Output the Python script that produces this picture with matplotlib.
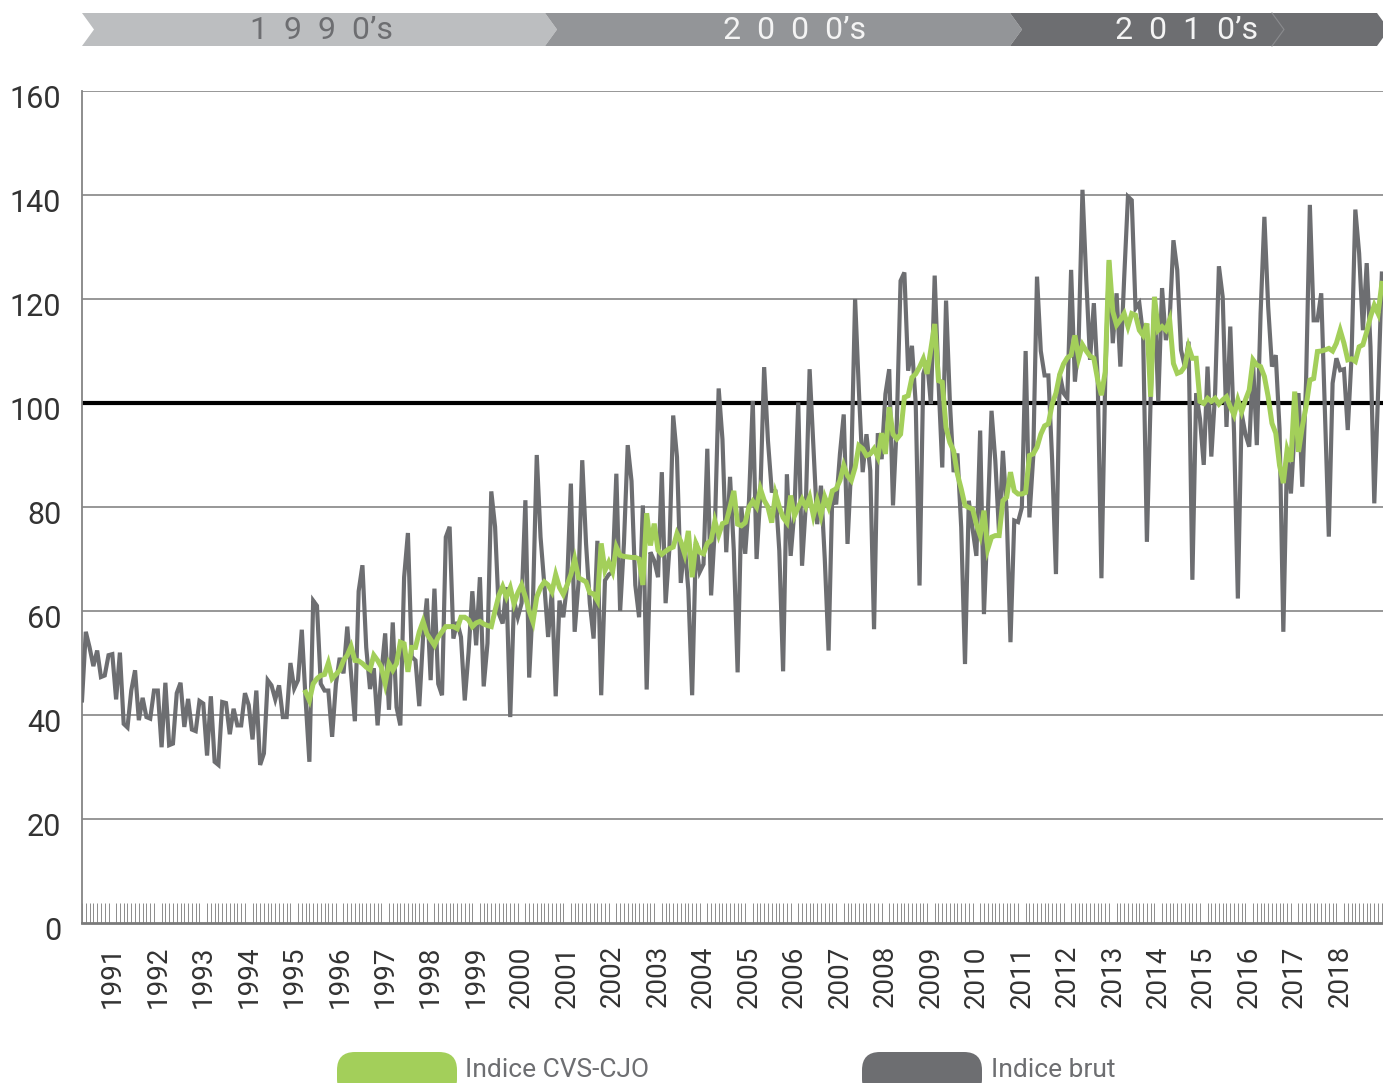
import numpy as np
import pandas as pd
import matplotlib
matplotlib.use("Agg")
import matplotlib.pyplot as plt
import matplotlib.transforms as mtransforms
from matplotlib.patches import Polygon, FancyBboxPatch

# ---------------- data ----------------
start_month = "1990-05"

brut_1990_1997 = [42.8, 56, 53, 49.4, 52.4, 47.3, 47.6, 51.5, 51.7, 43,
                  52, 38.3, 37.6, 44.7, 48.6, 39, 43.3, 39.6, 39.3, 44.7,
                  44.7, 33.8, 46.2, 34.2, 34.5, 44.2, 46.2, 37.7, 43.1, 37.2,
                  36.9, 42.7, 42.2, 32.2, 43.6, 31, 30.4, 42.5, 42.3, 36.3,
                  41.2, 38, 38, 44.2, 41.9, 35.3, 44.7, 30.4, 32.6, 46.7,
                  45.7, 43, 45.7, 39.6, 39.6, 50, 45.1, 46.7, 56.4, 43,
                  31, 62, 61, 46, 44.7, 44.7, 35.8, 46, 51, 48,
                  57, 48, 38.8, 63.8, 68.8, 53, 45, 49, 38, 48,
                  55.7, 41, 57.8, 41.5, 38, 66.5, 75]
brut_1997_2004 = [51.2, 50.5, 41.7, 55, 62.4, 46.7, 64.3, 46, 43.8, 74.2,
                  76.2, 54.7, 57.9, 55, 42.8, 52, 63.8, 53.4, 66.5, 45.5,
                  53.8, 83, 76.2, 59.5, 57.6, 64.6, 39.6, 62, 58.8, 61.5,
                  81.3, 47.2, 62, 90, 74.2, 65, 55, 64, 43.6, 62,
                  58.8, 65, 84.5, 56, 65.3, 89, 73, 61.5, 54.7, 73.5,
                  43.8, 65.9, 67, 67.5, 86.4, 60, 73, 91.9, 85, 65,
                  58.8, 80.3, 44.9, 71.3, 69.7, 66.5, 86.7, 61.5, 72, 97.6,
                  89.6, 65.4, 73, 64, 43.8, 73.3, 67.5, 69, 91.2, 63,
                  76, 102.8, 93, 71.3, 85.8]
brut_2004_2011 = [71.6, 48.2, 80, 71, 81.2, 100.4, 70, 82.5, 106.9, 92.8,
                  83.1, 83, 71.6, 48.4, 86.3, 70.6, 79.4, 100.1, 68.7, 80.5,
                  106.5, 91.5, 76.7, 84.1, 70, 52.4, 83.1, 80.5, 90.2, 97.8,
                  72.9, 88.3, 120, 102.4, 86.7, 94, 87, 56.5, 94.2, 89.2,
                  101.7, 106.5, 80.3, 96, 123.5, 125.1, 106.2, 111, 99.8, 64.9,
                  105.6, 108.1, 99.8, 124.5, 104.3, 87.6, 119.7, 100.4, 86.7, 90.3,
                  76.1, 49.8, 81.2, 75.8, 70.6, 94.7, 59.4, 78, 98.5, 88.9,
                  74.8, 90.8, 79, 54, 77.4, 77.1, 79.9, 110, 78, 89.6,
                  124.3, 110, 105.3, 105.3, 88.9, 67.1, 105.6]
brut_2011_2018 = [101.9, 100.9, 125.6, 104.1, 112, 141, 123.7, 108.3, 119.2, 105,
                  66.3, 104.4, 127.2, 111.5, 121.1, 107, 124, 139.7, 139, 118.2,
                  119.2, 113, 73.3, 101.2, 120.4, 100.3, 122.1, 112.1, 115.9, 131.3,
                  125.6, 110.2, 107, 111.8, 66, 101.9, 97, 88.1, 107, 89.7,
                  102, 126.3, 120.4, 95.4, 114.7, 94.2, 62.4, 98, 94, 91.6,
                  108, 91.9, 117.2, 135.8, 118.5, 107, 109.2, 95, 56, 91,
                  82.6, 95, 101.9, 83.9, 104.1, 138.1, 115.9, 115.9, 121.1, 98,
                  74.3, 103.8, 108.6, 106.3, 106.5, 94.8, 108.9, 137.2, 128.8, 114,
                  126.9, 110.8, 80.7, 101.9, 124.9]

cvs_start_index = 59  # first month of the CVS-CJO series
cvs_1995_1997 = [44.4, 42.8, 46, 47, 47.6, 47.8, 50, 47, 47.8, 48.6,
                 50.5, 51.5, 53.2, 50.5, 50.4, 49.9, 49.2, 48.7, 51.5, 50.5,
                 49.2, 46, 49.9, 48.6, 49.9, 54, 53.7]
cvs_1997_2004 = [48.3, 53, 53, 56, 58, 55.6, 54.5, 53.4, 55, 56,
                 57, 57, 57, 56.6, 58.8, 58.8, 58.3, 57, 57.7, 58,
                 57.5, 57.2, 57, 60.1, 63, 64.7, 62.7, 64.5, 61.4, 63.5,
                 65, 62.7, 60, 57.9, 62.7, 64.5, 65.6, 65, 63.7, 67,
                 64.5, 63.2, 65, 67, 70, 66.4, 66, 65.6, 63.5, 63.3,
                 62, 73, 67.8, 69.4, 67.6, 72.3, 70.7, 70.5, 70.4, 70.3,
                 70.3, 70, 65, 78.8, 72.6, 76.8, 71.7, 70.9, 71.5, 72,
                 72.3, 74.9, 73.4, 71, 75.4, 66.5, 73, 71.3, 71, 73,
                 73.6, 77.3, 74.6, 76.8, 77.1, 80]
cvs_2004_2011 = [83.1, 76.7, 76.4, 77, 80, 81.1, 80, 83.5, 81.3, 80,
                 77, 82.5, 80, 78, 77, 82.2, 78.3, 80, 81.5, 80,
                 81.9, 78.3, 81.2, 78.3, 81.9, 80, 83.1, 83.5, 85.1, 88,
                 86, 85.1, 87.6, 91.8, 91.2, 89.9, 90.2, 91.2, 89.6, 94.2,
                 90.2, 99.2, 94, 93.1, 94, 101.1, 101.4, 104.9, 105.6, 106.9,
                 108.5, 105.6, 110.4, 115.2, 104.3, 104, 95.3, 92.4, 90.8, 86.3,
                 83.5, 80.3, 79.9, 79.6, 76.7, 74.5, 79.3, 71.9, 74.2, 74.5,
                 74.5, 81.2, 81.9, 86.7, 83.1, 82.5, 82.5, 82.8, 89.9, 90.2,
                 91.5, 94, 95.6, 96, 99.8]
cvs_2011_2018 = [101.9, 105.5, 107.5, 108.7, 109.2, 113, 108.6, 111.2, 110, 109,
                 108.6, 104.5, 101.5, 106, 127.5, 117.6, 115, 116, 117.2, 114.7,
                 117.2, 116.9, 114, 113, 115.3, 101.2, 120.4, 114, 114.7, 114,
                 116, 107.6, 105.7, 106, 107, 110.8, 108.6, 108.6, 100.3, 99.9,
                 100.9, 100.3, 100.9, 99.8, 100.6, 101.2, 99.3, 97.7, 100.6, 98.3,
                 100.6, 102.5, 108.3, 107.3, 107, 105.1, 101.2, 96.1, 94.2, 88,
                 84.6, 91, 88.7, 102.2, 90.6, 95.4, 99.3, 104.4, 104.7, 109.9,
                 110, 110.2, 110.5, 110, 111.5, 114, 111.5, 108.3, 108.5, 108,
                 110.8, 111.2, 113.7, 116.6, 118.8, 117.2, 123]

decades = ["1  9  9  0\u2019s", "2  0  0  0\u2019s", "2  0  1  0\u2019s"]
legend_labels = ["Indice CVS-CJO", "Indice brut"]
y_ticks = [0, 20, 40, 60, 80, 100, 120, 140, 160]
reference_level = 100

brut = np.array(brut_1990_1997 + brut_1997_2004 + brut_2004_2011 + brut_2011_2018)
cvs = np.array(cvs_1995_1997 + cvs_1997_2004 + cvs_2004_2011 + cvs_2011_2018)
months = pd.date_range(start_month, periods=len(brut), freq="MS")
x_brut = np.arange(len(brut))
x_cvs = np.arange(cvs_start_index, cvs_start_index + len(cvs))

# ---------------- style ----------------
GREEN = "#a3cf5a"
GRAY = "#6d6e71"
GRID = "#858585"
TXT = "#333333"
FONT = ["Roboto", "DejaVu Sans"]
plt.rcParams["font.family"] = FONT

W, H = 1383, 1083
fig = plt.figure(figsize=(W / 100, H / 100), dpi=100)
L, R, T, B = 82, 1383, 91, 923
ax = fig.add_axes([L / W, 1 - B / H, (R - L) / W, (B - T) / H])

ax.plot(x_brut, brut, color=GRAY, lw=3.0, zorder=3, solid_joinstyle="miter")
ax.plot(x_cvs, cvs, color=GREEN, lw=3.6, zorder=4, solid_joinstyle="miter")
ax.axhline(reference_level, color="black", lw=3.0, zorder=2)

ax.set_xlim(0, len(brut) - 0.7)
ax.set_ylim(0, 160)
ax.set_yticks(y_ticks)
ax.set_yticklabels([str(v) for v in y_ticks], fontsize=22, color=TXT)
ax.tick_params(axis="y", length=0, pad=15)
shift = mtransforms.ScaledTranslation(0, -5 / 100, fig.dpi_scale_trans)
for lab in ax.get_yticklabels():
    lab.set_transform(lab.get_transform() + shift)
for v in y_ticks[1:]:
    ax.axhline(v, color=GRID, lw=1.2, zorder=1)

jan_idx = [i for i, d in enumerate(months) if d.month == 1]
ax.set_xticks(jan_idx)
ax.set_xticklabels([str(months[i].year) for i in jan_idx], rotation=90,
                   fontsize=20, color=TXT, va="top")
ax.tick_params(axis="x", which="major", length=0, pad=16)
ax.set_xticks(x_brut, minor=True)
ax.tick_params(axis="x", which="minor", direction="in", length=14.5, width=0.7, color="#8c8c8c")

for s in ["top", "right"]:
    ax.spines[s].set_visible(False)
ax.spines["left"].set_color(GRID)
ax.spines["left"].set_linewidth(1.3)
ax.spines["bottom"].set_color("#7a7a7a")
ax.spines["bottom"].set_linewidth(2.0)

# ---------------- overlay: banner & legend ----------------
ov = fig.add_axes([0, 0, 1, 1], zorder=5)
ov.set_xlim(0, W)
ov.set_ylim(H, 0)
ov.axis("off")
ov.patch.set_alpha(0)

y0, y1 = 13, 46
ym = (y0 + y1) / 2
d = 12
bands = [(82, 545, "#bcbec0", "#6d6e71", 322), (545, 1010, "#939598", "#f4f4f4", 795),
         (1010, 1377, "#6d6e71", "#f4f4f4", 1187)]
for (xa, xb, col, tcol, cx), label in zip(bands, decades):
    pts = [(xa, y0), (xb, y0), (xb + d, ym), (xb, y1), (xa, y1), (xa + d, ym)]
    ov.add_patch(Polygon(pts, closed=True, facecolor=col, edgecolor="none"))
    ov.text(cx, ym + 1, label, ha="center", va="center", fontsize=23, color=tcol)
ov.plot([1272, 1284, 1272], [y0, ym, y1], color="#8a8b8e", lw=0.8)

leg = [(337, 457, GREEN, 465), (862, 982, GRAY, 991)]
for (xa, xb, col, tx), lab in zip(leg, legend_labels):
    ov.add_patch(FancyBboxPatch((xa, 1052), xb - xa, 45,
                                boxstyle="round,pad=0,rounding_size=18",
                                facecolor=col, edgecolor="none"))
    ov.text(tx, 1070, lab, ha="left", va="center", fontsize=19, color=GRAY)

fig.savefig("out.png", dpi=100)
